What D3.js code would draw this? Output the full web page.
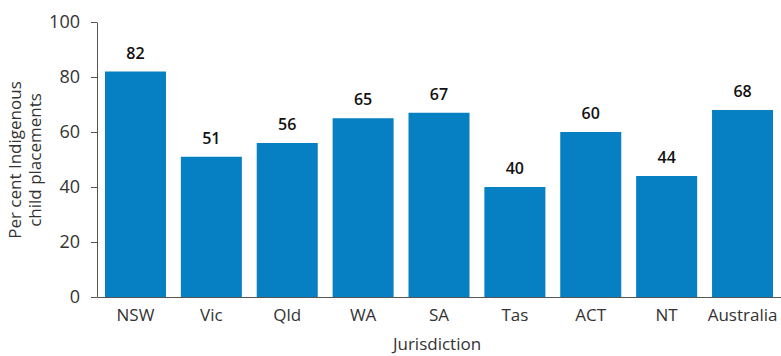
<!DOCTYPE html>
<html><head><meta charset="utf-8">
<script src="https://cdn.jsdelivr.net/npm/d3@7"></script>
<style>body{margin:0;background:#fff}</style>
</head><body>
<script>
const categories = ["NSW","Vic","Qld","WA","SA","Tas","ACT","NT","Australia"];
const values = [82,51,56,65,67,40,60,44,68];
const yTicks = [0,20,40,60,80,100];

const W=781,H=356;
const svg=d3.select("body").append("svg").attr("width",W).attr("height",H);
const font="'Open Sans', sans-serif";
const x=d3.scaleBand().domain(categories).range([97,781]).paddingInner(0.196).paddingOuter(0.105);
const y=d3.scaleLinear().domain([0,100]).range([297,22]);

svg.selectAll("rect.bar").data(values).join("rect").attr("class","bar")
  .attr("x",(d,i)=>x(categories[i])).attr("width",x.bandwidth())
  .attr("y",d=>y(d)).attr("height",d=>y(0)-y(d)).attr("fill","#0680c2");

svg.selectAll("text.val").data(values).join("text").attr("class","val")
  .attr("x",(d,i)=>x(categories[i])+x.bandwidth()/2).attr("y",d=>y(d)-13)
  .attr("text-anchor","middle").attr("font-family",font).attr("font-size",16).attr("font-weight","600")
  .attr("fill","#111").text(d=>d);

const ya=svg.append("g").attr("transform","translate(97,0)")
  .call(d3.axisLeft(y).tickValues(yTicks).tickSize(6).tickSizeOuter(0).tickPadding(11));
ya.select(".domain").attr("stroke","#555");
ya.selectAll(".tick line").attr("stroke","#555");
ya.selectAll("text").attr("font-family",font).attr("font-size",18).attr("fill","#333");

const xa=svg.append("g").attr("transform","translate(0,297)")
  .call(d3.axisBottom(x).tickSize(0).tickPadding(12));
xa.select(".domain").attr("stroke","#555");
xa.selectAll("text").attr("font-family",font).attr("font-size",17).attr("fill","#333");

svg.append("text").attr("x",437).attr("y",350).attr("text-anchor","middle")
  .attr("font-family",font).attr("font-size",17).attr("fill","#333").text("Jurisdiction");

const yl=svg.append("text").attr("transform","translate(21,160) rotate(-90)")
  .attr("text-anchor","middle").attr("font-family",font).attr("font-size",17).attr("fill","#333");
yl.append("tspan").attr("x",0).attr("dy",0).text("Per cent Indigenous");
yl.append("tspan").attr("x",0).attr("dy",20).text("child placements");
</script>
</body></html>
